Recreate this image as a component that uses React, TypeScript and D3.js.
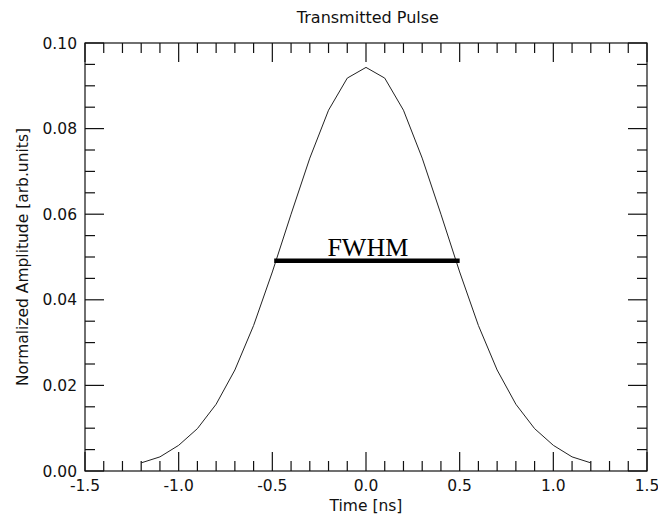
import React, { useEffect, useRef } from "react";
import * as d3 from "d3";

// pulse samples
const times = [
  -1.2, -1.1, -1.0, -0.9, -0.8, -0.7, -0.6, -0.5, -0.4, -0.3, -0.2, -0.1, 0.0,
  0.1, 0.2, 0.3, 0.4, 0.5, 0.6, 0.7, 0.8, 0.9, 1.0, 1.1, 1.2
];
const amplitudes = [
  0.0019, 0.0033, 0.006, 0.0099, 0.0156, 0.0236, 0.034, 0.0465, 0.06, 0.0731,
  0.0843, 0.0918, 0.0943, 0.0918, 0.0843, 0.0731, 0.06, 0.0465, 0.034, 0.0236,
  0.0156, 0.0099, 0.006, 0.0033, 0.0019
];
const fwhmSpan = [-0.49, 0.5];
const fwhmLevel = 0.0491;
const xTickLabels = ["-1.5", "-1.0", "-0.5", "0.0", "0.5", "1.0", "1.5"];
const yTickLabels = ["0.00", "0.02", "0.04", "0.06", "0.08", "0.10"];

const App = () => {
  const ref = useRef(null);

  useEffect(() => {
    const width = 658;
    const height = 517;
    const margin = { top: 43, right: 11, bottom: 46, left: 85 };
    const font = "'DejaVu Sans', sans-serif";
    const ink = "#111";

    const root = d3.select(ref.current);
    root.selectAll("*").remove();

    const svg = root
      .append("svg")
      .attr("width", width)
      .attr("height", height)
      .style("display", "block");

    svg.append("rect").attr("width", width).attr("height", height).attr("fill", "#fff");

    const x = d3.scaleLinear().domain([-1.5, 1.5]).range([margin.left, width - margin.right]);
    const y = d3.scaleLinear().domain([0, 0.1]).range([height - margin.bottom, margin.top]);

    const x0 = x.range()[0];
    const x1 = x.range()[1];
    const y0 = y.range()[0];
    const y1 = y.range()[1];

    // frame
    svg
      .append("rect")
      .attr("x", x0)
      .attr("y", y1)
      .attr("width", x1 - x0)
      .attr("height", y0 - y1)
      .attr("fill", "none")
      .attr("stroke", ink)
      .attr("stroke-width", 1.2);

    const ticks = svg.append("g").attr("stroke", ink).attr("stroke-width", 1.2);

    // x ticks, bottom and top
    d3.range(-15, 16).forEach(i => {
      const v = i / 10;
      const len = i % 5 === 0 ? 19 : 10;
      ticks.append("line").attr("x1", x(v)).attr("x2", x(v)).attr("y1", y0).attr("y2", y0 - len);
      ticks.append("line").attr("x1", x(v)).attr("x2", x(v)).attr("y1", y1).attr("y2", y1 + len);
    });

    // y ticks, left and right
    d3.range(0, 21).forEach(i => {
      const v = i * 0.005;
      const len = i % 4 === 0 ? 19 : 10;
      ticks.append("line").attr("y1", y(v)).attr("y2", y(v)).attr("x1", x0).attr("x2", x0 + len);
      ticks.append("line").attr("y1", y(v)).attr("y2", y(v)).attr("x1", x1).attr("x2", x1 - len);
    });

    xTickLabels.forEach(t => {
      svg
        .append("text")
        .text(t)
        .attr("x", x(+t))
        .attr("y", y0 + 20)
        .attr("text-anchor", "middle")
        .style("font-family", font)
        .style("font-size", "15.5px")
        .style("fill", ink);
    });

    yTickLabels.forEach(t => {
      svg
        .append("text")
        .text(t)
        .attr("x", x0 - 8)
        .attr("y", y(+t) + 5.5)
        .attr("text-anchor", "end")
        .style("font-family", font)
        .style("font-size", "15.5px")
        .style("fill", ink);
    });

    // the pulse
    const line = d3
      .line()
      .x(d => x(d[0]))
      .y(d => y(d[1]));

    svg
      .append("path")
      .datum(times.map((t, i) => [t, amplitudes[i]]))
      .attr("d", line)
      .attr("fill", "none")
      .attr("stroke", "#222")
      .attr("stroke-width", 1);

    // FWHM bar
    svg
      .append("line")
      .attr("x1", x(fwhmSpan[0]))
      .attr("x2", x(fwhmSpan[1]))
      .attr("y1", y(fwhmLevel))
      .attr("y2", y(fwhmLevel))
      .attr("stroke", "#000")
      .attr("stroke-width", 4.5);

    svg
      .append("text")
      .text("FWHM")
      .attr("x", x(0.01))
      .attr("y", y(fwhmLevel) - 5)
      .attr("text-anchor", "middle")
      .style("font-family", "'Liberation Serif', serif")
      .style("font-size", "26px")
      .style("fill", "#000");

    // titles
    svg
      .append("text")
      .text("Transmitted Pulse")
      .attr("x", x(0.01))
      .attr("y", 23)
      .attr("text-anchor", "middle")
      .style("font-family", font)
      .style("font-size", "16px")
      .style("fill", ink);

    svg
      .append("text")
      .text("Time [ns]")
      .attr("x", x(0))
      .attr("y", 511)
      .attr("text-anchor", "middle")
      .style("font-family", font)
      .style("font-size", "15.5px")
      .style("fill", ink);

    svg
      .append("text")
      .text("Normalized Amplitude [arb.units]")
      .attr("transform", "translate(28," + (y1 + y0) / 2 + ") rotate(-90)")
      .attr("text-anchor", "middle")
      .style("font-family", font)
      .style("font-size", "15.5px")
      .style("fill", ink);
  }, []);

  return <div ref={ref} style={{ position: "absolute", left: 0, top: 0 }}></div>;
};

export default App;
